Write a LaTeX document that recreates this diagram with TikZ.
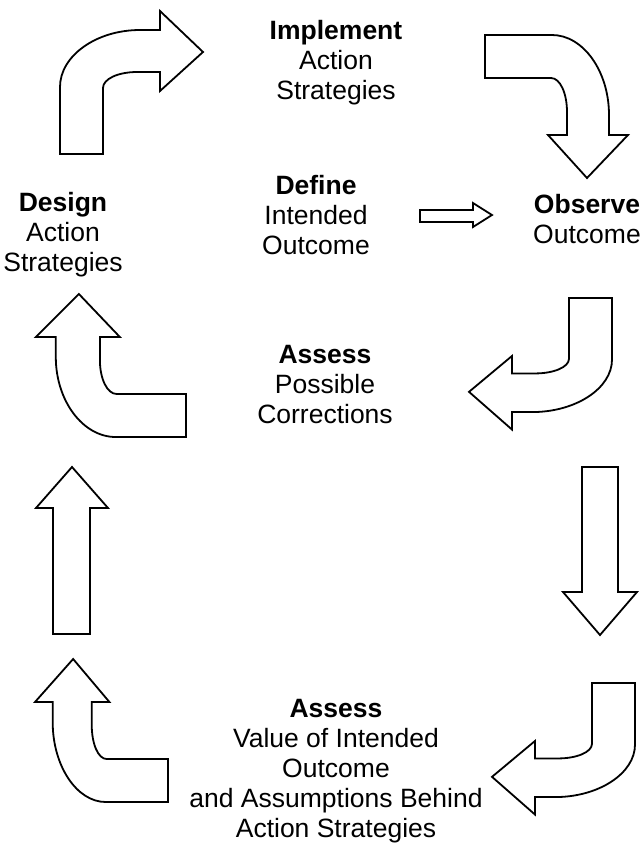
\documentclass[tikz,border=0pt]{standalone}
\usepackage{fontspec}
\setmainfont{Liberation Sans}
\tikzset{
    blockarrow/.style={draw, line width=1.8pt, fill=white, line join=miter}, % outline of every block arrow
    stagetext/.style={align=center, inner sep=0pt, font=\fontsize{26.5}{30}\selectfont},
    bent/.pic={
        \draw[blockarrow] (0,0) -- (43,0) -- (43,-66)
            .. controls (43,-75) and (58,-82) .. (77,-82) -- (100,-82)
            -- (100,-63) -- (143,-102) -- (100,-143) -- (100,-124) -- (80,-124)
            .. controls (36,-124) and (0,-98) .. (0,-67) -- cycle;
    }
}

\begin{document}
\begin{tikzpicture}[x=1pt, y=-1pt]
    \useasboundingbox (0,0) rectangle (643,844);

    % Fasi
    \node[stagetext] (implement) at (336,63) {\textbf{Implement}\\Action\\Strategies};
    \node[stagetext] (define) at (316,215) {\textbf{Define}\\Intended\\Outcome};
    \node[stagetext] (design) at (63,235) {\textbf{Design}\\Action\\Strategies};
    \node[stagetext] (observe) at (587,219) {\textbf{Observe}\\Outcome};
    \node[stagetext] (corrections) at (325,385) {\textbf{Assess}\\Possible\\Corrections};
    \node[stagetext] (value) at (336,771) {\textbf{Assess}\\Value of Intended\\Outcome\\and Assumptions Behind\\Action Strategies};

    % Frecce curve
    \pic at (60,154) {bent};
    \pic[rotate=-90] at (485,35) {bent};
    \pic[rotate=180, yscale=0.92] at (612,298) {bent};
    \pic[rotate=90, yscale=1.05] at (186,437) {bent};
    \pic[rotate=90, yscale=0.93] at (168,802) {bent};
    \pic[rotate=180, yscale=0.92] at (635,683) {bent};

    % Frecce dritte
    \draw[blockarrow] (53,634) -- (53,508) -- (36,508) -- (72,467) -- (108,508) -- (90,508) -- (90,634) -- cycle;
    \draw[blockarrow] (582,467) -- (582,592) -- (563,592) -- (600,635) -- (637,592) -- (618,592) -- (618,467) -- cycle;
    \draw[blockarrow] (420,210) -- (473,210) -- (473,203) -- (492,215) -- (473,227) -- (473,222) -- (420,222) -- cycle;
\end{tikzpicture}
\end{document}
